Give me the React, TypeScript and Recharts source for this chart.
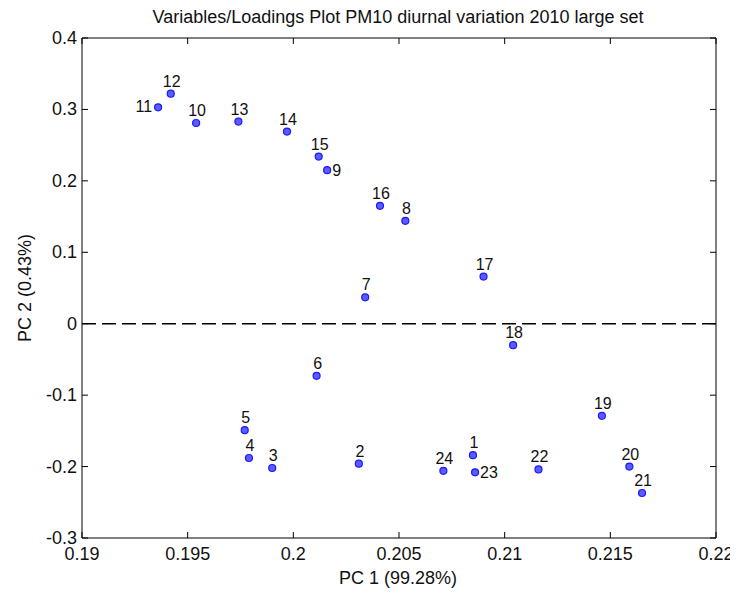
import React from "react";
import {
  ScatterChart,
  Scatter,
  XAxis,
  YAxis,
  ReferenceLine,
} from "recharts";

// variable number (hour) and its loadings on the first two PCs
const ids = ["1", "2", "3", "4", "5", "6", "7", "8", "9", "10", "11", "12", "13", "14", "15", "16", "17", "18", "19", "20", "21", "22", "23", "24"];
const pc1 = [0.2085, 0.2031, 0.199, 0.1979, 0.1977, 0.2011, 0.2034, 0.2053, 0.2016, 0.1954, 0.1936, 0.1942, 0.1974, 0.1997, 0.2012, 0.2041, 0.209, 0.2104, 0.2146, 0.2159, 0.2165, 0.2116, 0.2086, 0.2071];
const pc2 = [-0.184, -0.196, -0.202, -0.188, -0.149, -0.073, 0.037, 0.144, 0.215, 0.281, 0.303, 0.322, 0.283, 0.269, 0.234, 0.165, 0.066, -0.03, -0.129, -0.2, -0.237, -0.204, -0.208, -0.206];

const xTicks = [0.19, 0.195, 0.2, 0.205, 0.21, 0.215, 0.22];
const xTickLabels = ["0.19", "0.195", "0.2", "0.205", "0.21", "0.215", "0.22"];
const yTicks = [-0.3, -0.2, -0.1, 0, 0.1, 0.2, 0.3, 0.4];
const yTickLabels = ["-0.3", "-0.2", "-0.1", "0", "0.1", "0.2", "0.3", "0.4"];

const points = ids.map((id, i) => ({ id, x: pc1[i], y: pc2[i] }));

// labels that MATLAB put beside the marker instead of above it
const leftLabels = ["11"];
const rightLabels = ["9", "23"];

const W = 730;
const H = 580;
const PLOT_TOP = 30;
const PLOT_RIGHT = 708;
const FONT = "'Liberation Sans', Arial, sans-serif";

const XTick = (props: any) => {
  const { x, y, index } = props;
  return (
    <g>
      <line x1={x} y1={y} x2={x} y2={y - 6} stroke="#000" />
      <line x1={x} y1={PLOT_TOP} x2={x} y2={PLOT_TOP + 6} stroke="#000" />
      <text x={x} y={y + 22} textAnchor="middle" fontSize={18} fill="#111" fontFamily={FONT}>
        {xTickLabels[index]}
      </text>
    </g>
  );
};

const YTick = (props: any) => {
  const { x, y, index } = props;
  return (
    <g>
      <line x1={x} y1={y} x2={x + 6} y2={y} stroke="#000" />
      <line x1={PLOT_RIGHT} y1={y} x2={PLOT_RIGHT - 6} y2={y} stroke="#000" />
      <text x={x - 5} y={y + 6} textAnchor="end" fontSize={18} fill="#111" fontFamily={FONT}>
        {yTickLabels[index]}
      </text>
    </g>
  );
};

const Marker = (props: any) => {
  const { cx, cy, payload } = props;
  const id = payload.id;
  let tx = cx + 1;
  let ty = cy - 7;
  let anchor = "middle";
  if (leftLabels.includes(id)) {
    tx = cx - 6;
    ty = cy + 5;
    anchor = "end";
  } else if (rightLabels.includes(id)) {
    tx = cx + 5;
    ty = cy + 6;
    anchor = "start";
  }
  return (
    <g>
      <circle cx={cx} cy={cy} r={3.5} fill="#5b5bff" stroke="#1a1aff" strokeWidth={1.2} />
      <text x={tx} y={ty} textAnchor={anchor} fontSize={16} fill="#111" fontFamily={FONT}>
        {id}
      </text>
    </g>
  );
};

export default function App() {
  return (
    <div style={{ width: W, height: H, fontFamily: FONT }}>
      <ScatterChart width={W} height={H} margin={{ top: PLOT_TOP, right: W - PLOT_RIGHT, bottom: 0, left: 14 }}>
        <XAxis
          dataKey="x"
          type="number"
          domain={[0.19, 0.22]}
          ticks={xTicks}
          allowDataOverflow
          height={50}
          tickSize={0}
          tickMargin={0}
          tickLine={false}
          tick={<XTick />}
          interval={0}
          axisLine={{ stroke: "#000" }}
        />
        <YAxis
          dataKey="y"
          type="number"
          domain={[-0.3, 0.4]}
          ticks={yTicks}
          allowDataOverflow
          width={60}
          tickSize={0}
          tickMargin={0}
          tickLine={false}
          tick={<YTick />}
          interval={0}
          axisLine={{ stroke: "#000" }}
        />
        {/* box: top and right edges */}
        <ReferenceLine y={0.4} stroke="#000" />
        <ReferenceLine x={0.22} stroke="#000" />
        <ReferenceLine y={0} stroke="#000" strokeWidth={1.5} strokeDasharray="14 6" />
        <Scatter data={points} shape={<Marker />} isAnimationActive={false} />
        <text x={390} y={15} textAnchor="middle" fontSize={18} fill="#111" fontFamily={FONT}>
          Variables/Loadings Plot PM10 diurnal variation 2010 large set
        </text>
        <text x={390} y={576} textAnchor="middle" fontSize={18} fill="#111" fontFamily={FONT}>
          PC 1 (99.28%)
        </text>
        <text
          x={17}
          y={280}
          textAnchor="middle"
          fontSize={18}
          fill="#111"
          fontFamily={FONT}
          transform="rotate(-90 17 280)"
          dominantBaseline="central"
        >
          PC 2 (0.43%)
        </text>
      </ScatterChart>
    </div>
  );
}
